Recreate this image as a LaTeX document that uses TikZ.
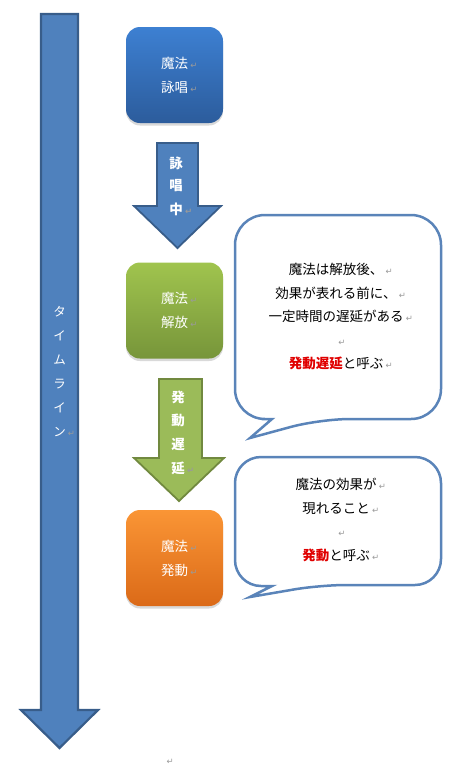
\documentclass[tikz,border=0pt]{standalone}
\usepackage{fontspec}
\setmainfont{Noto Sans CJK JP}
\newfontfamily\markfont{DejaVu Sans}
\usetikzlibrary{shadows}

\definecolor{tlfill}{HTML}{4F81BD}
\definecolor{tldraw}{HTML}{385D8A}
\definecolor{castTop}{HTML}{3D80D2}
\definecolor{castBot}{HTML}{2C5C9C}
\definecolor{relTop}{HTML}{A0C44E}
\definecolor{relBot}{HTML}{77953A}
\definecolor{relFill}{HTML}{9BBB59}
\definecolor{relDraw}{HTML}{71893F}
\definecolor{actTop}{HTML}{FA9535}
\definecolor{actBot}{HTML}{DB6A18}
\definecolor{bubble}{HTML}{5A84B9}
\definecolor{markgray}{HTML}{9A9A9A}
\definecolor{delayred}{HTML}{E00000}

% paragraph mark left behind by the word processor
\newcommand\retmark{\rlap{\,\textcolor{markgray}{\markfont\fontsize{8.5}{8.5}\selectfont ↵}}}

\begin{document}
\begin{tikzpicture}[x=1pt, y=-1pt,
    stagebox/.style={rounded corners=14pt, minimum width=97pt, minimum height=96pt,
        text=white, align=center, font=\fontsize{13.5}{24}\selectfont,
        drop shadow={opacity=0.3, shadow xshift=0pt, shadow yshift=-2.5pt}},
    arrowtext/.style={text=white, font=\fontsize{13.5}{13.5}\bfseries\selectfont, inner sep=0pt},
    tltext/.style={text=white, font=\fontsize{12.5}{12.5}\selectfont, inner sep=0pt},
    bubbletext/.style={align=center, font=\fontsize{13.5}{23.5}\selectfont}]
    \useasboundingbox (0,0) rectangle (467,766);

    % Timeline arrow on the left
    \draw[tldraw, fill=tlfill, line width=2.2pt, line join=miter]
        (41,14) -- (78,14) -- (78,710) -- (98,710) -- (59.5,748)
        -- (21,710) -- (41,710) -- cycle;
    \foreach \ch [count=\i] in {タ,イ,ム,ラ,イ}
        \node[tltext] (tl\i) at (59.5,{312+24*(\i-1)}) {\ch};
    \node[tltext] (tl6) at (59.5,432) {ン\retmark};

    % Stages
    \node[stagebox, top color=castTop, bottom color=castBot] (cast) at (174.5,75) {魔法\retmark\\詠唱\retmark};
    \node[stagebox, top color=relTop, bottom color=relBot] (release) at (174.5,310.5) {魔法\retmark\\解放\retmark};
    \node[stagebox, top color=actTop, bottom color=actBot] (active) at (174.5,558) {魔法\retmark\\発動\retmark};

    % Block arrow: casting
    \draw[tldraw, fill=tlfill, line width=1.8pt, line join=miter]
        (157,143) -- (198,143) -- (198,206) -- (221,206) -- (177.5,248)
        -- (134,206) -- (157,206) -- cycle;
    \foreach \ch [count=\i] in {詠,唱}
        \node[arrowtext] (castw\i) at (176,{163+23*(\i-1)}) {\ch};
    \node[arrowtext] (castw3) at (176,209) {中\retmark};

    % Block arrow: delay
    \draw[relDraw, fill=relFill, line width=1.8pt, line join=miter]
        (159,379) -- (202,379) -- (202,458) -- (224,458) -- (179,501)
        -- (134,458) -- (159,458) -- cycle;
    \foreach \ch [count=\i] in {発,動,遅}
        \node[arrowtext] (delayw\i) at (178,{397+23.7*(\i-1)}) {\ch};
    \node[arrowtext] (delayw4) at (178,468) {延\retmark};

    % Speech bubbles
    \draw[bubble, fill=white, line width=2.5pt]
        (441,317) [rounded corners=30pt] -- (441,419) -- (320,419)
        [sharp corners] -- (250,438) -- (272,419) -- (262,419)
        [rounded corners=30pt] -- (235,419) -- (235,215) -- (441,215) -- cycle;
    \node[bubbletext] (delaynote) at (336,317)
        {魔法は解放後、\retmark\\効果が表れる前に、\retmark\\一定時間の遅延がある\retmark\\\retmark\\%
         \textcolor{delayred}{\bfseries 発動遅延}と呼ぶ\retmark};

    \draw[bubble, fill=white, line width=2.5pt]
        (441,520) [rounded corners=26pt] -- (441,585) -- (320,585)
        [sharp corners] -- (250,597) -- (272,586) -- (262,586)
        [rounded corners=26pt] -- (235,586) -- (235,457) -- (441,457) -- cycle;
    \node[bubbletext] (activenote) at (336,520)
        {魔法の効果が\retmark\\現れること\retmark\\\retmark\\%
         \textcolor{delayred}{\bfseries 発動}と呼ぶ\retmark};

    \node[inner sep=0pt] (endmark) at (165,762) {\retmark};
\end{tikzpicture}
\end{document}
